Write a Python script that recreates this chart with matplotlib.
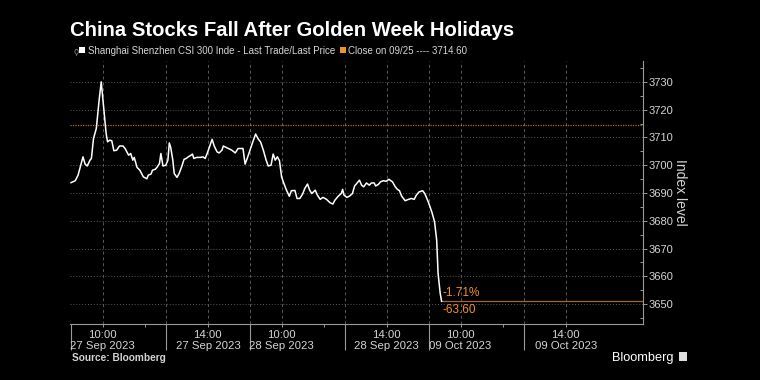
import matplotlib
matplotlib.use("Agg")
import matplotlib.pyplot as plt
from matplotlib.patches import Rectangle
import numpy as np

plt.rcParams['font.family'] = ['Liberation Sans', 'DejaVu Sans']

# ---- data (x = trading minutes since 09:15 on 27 Sep 2023, lunch/overnight/holiday gaps removed;
#      each session day = 09:15-11:30 (135 min) + 13:00-15:00 (120 min) = 255 min)
trade_min = [0, 6, 10, 17, 20, 23, 27, 29, 32, 36, 40, 43, 46, 50, 52, 55, 58, 61, 65, 69,
             74, 77, 82, 85, 88, 90, 94, 98, 103, 108, 110, 114, 116, 120, 123, 126, 128, 131,
             135, 138, 140, 142, 145, 147, 151, 154, 158, 161, 164, 167, 171, 173, 175, 179,
             184, 188, 191, 194, 197, 201, 204, 208, 211, 215, 217, 221, 224, 229, 234, 238,
             243, 245, 248, 251,
             255, 259, 263, 267, 270, 274, 278, 281, 285, 288, 291, 294, 297, 300, 303, 307,
             311, 314, 319, 322, 326, 330, 333, 337, 340, 343, 348, 351, 355, 359, 364, 369,
             373, 376, 381, 385, 387, 389, 393, 397, 401, 404, 407, 411, 414, 417, 421, 425,
             428, 432, 434, 438, 441, 445, 449, 453, 458, 462, 465, 468, 471, 476, 481, 485,
             489, 492, 496, 501, 504, 509,
             514, 518, 521, 523, 526, 528]
csi300 = [3693.7, 3694.4, 3696.4, 3703.0, 3700.4, 3699.7, 3701.8, 3702.4, 3709.6, 3713.2,
          3723.4, 3730.0, 3722.2, 3711.4, 3708.4, 3709.0, 3708.8, 3705.2, 3705.4, 3706.9,
          3706.9, 3706.0, 3703.6, 3704.2, 3701.8, 3702.8, 3699.2, 3698.2, 3695.8, 3695.1,
          3696.4, 3696.8, 3698.2, 3698.5, 3699.4, 3700.6, 3704.2, 3699.7,
          3700.0, 3701.8, 3708.0, 3706.4, 3701.8, 3697.0, 3695.6, 3697.0, 3699.7, 3702.1,
          3702.4, 3703.0, 3703.6, 3704.0, 3702.4, 3702.8, 3702.8, 3703.0, 3702.4, 3704.2,
          3706.4, 3709.3, 3706.9, 3704.8, 3704.4, 3705.4, 3706.9, 3706.4, 3706.0, 3705.4,
          3704.4, 3706.0, 3706.0, 3706.0, 3700.4, 3702.4,
          3705.4, 3708.4, 3711.2, 3709.3, 3708.4, 3705.4, 3701.8, 3699.7, 3700.0, 3704.0,
          3701.8, 3703.0, 3701.6, 3695.8, 3693.6, 3691.0, 3688.8, 3690.8, 3690.9, 3688.0,
          3688.0, 3689.6, 3691.6, 3693.2, 3691.0, 3689.8, 3691.0, 3689.2, 3687.7, 3688.4,
          3687.7, 3686.5, 3686.0, 3687.4, 3688.9, 3689.8, 3691.3, 3689.2, 3688.4, 3688.9,
          3689.8, 3692.5, 3693.4, 3694.6, 3692.8, 3692.2, 3693.6, 3692.8, 3693.6, 3693.6,
          3692.5, 3693.1, 3694.0, 3694.4, 3694.2, 3694.9, 3694.0, 3692.2, 3691.3, 3690.8,
          3688.9, 3687.2, 3687.7, 3688.0, 3687.7, 3689.2, 3690.4, 3690.8, 3689.8, 3686.8,
          3683.2, 3679.6, 3673.0, 3661.0, 3653.9, 3651.0]
prev_close = 3714.60

# x-axis tick positions / labels
session_bounds = [0, 135, 255, 390, 510, 645, 765]
label_pos = [45, 195, 300, 450, 555, 705]
label_txt = ["10:00\n27 Sep 2023", "14:00\n27 Sep 2023", "10:00\n28 Sep 2023",
             "14:00\n28 Sep 2023", "10:00\n09 Oct 2023", "14:00\n09 Oct 2023"]
hour_ticks = [45, 105, 195, 300, 360, 450, 555, 615, 705]
yticks = [3650, 3660, 3670, 3680, 3690, 3700, 3710, 3720, 3730]

TXT = "#d4d4d4"
GRID = "#5a5a5a"
ORANGE = "#f0922b"

fig = plt.figure(figsize=(7.6, 3.8), dpi=100, facecolor="black")
ax = fig.add_axes([70 / 760, 1 - 323.5 / 380, (643 - 70) / 760, (323.5 - 61) / 380])
ax.set_facecolor("black")

ax.set_xlim(-1.5, 815)
ax.set_ylim(3643.0, 3737.5)

# grid
for y in yticks:
    ax.axhline(y, color=GRID, lw=0.7, ls=(0, (1, 2)), zorder=1)
for x in sorted(set(label_pos + session_bounds[1:6])):
    ax.axvline(x, color=GRID, lw=0.7, ls=(0, (3, 3)), zorder=1)

# previous close line
ax.axhline(prev_close, color=ORANGE, lw=0.9, ls=(0, (1, 1)), alpha=0.75, zorder=2)

# price line
ax.plot(trade_min, csi300, color="white", lw=1.1, zorder=3)

# last price line + change labels
last = csi300[-1]
chg = last - prev_close
pct = chg / prev_close * 100
ax.plot([trade_min[-1], ax.get_xlim()[1]], [last, last], color="#a8662a", lw=0.9, zorder=2)
ax.text(trade_min[-1] + 1, last + 0.8, f"{pct:.2f}%", color=ORANGE, fontsize=8.5,
        ha="left", va="bottom", zorder=4)
ax.text(trade_min[-1] + 1, last - 0.8, f"{chg:.2f}", color=ORANGE, fontsize=8.5,
        ha="left", va="top", zorder=4)

# spines
for s in ["left", "top"]:
    ax.spines[s].set_visible(False)
for s in ["right", "bottom"]:
    ax.spines[s].set_color("#9a9a9a")
    ax.spines[s].set_linewidth(0.8)

# y axis on the right
ax.yaxis.tick_right()
ax.set_yticks(yticks)
ax.set_yticklabels([str(v) for v in yticks])
ax.set_yticks(np.arange(3645, 3736, 10), minor=True)
ax.tick_params(axis="y", which="major", direction="out", length=3, width=0.7,
               color="#9a9a9a", labelcolor=TXT, labelsize=8, pad=1)
ax.tick_params(axis="y", which="minor", direction="in", length=2.5, width=0.7,
               color="#9a9a9a")
ax.yaxis.set_label_position("right")
ax.set_ylabel("Index level", color=TXT, fontsize=10, rotation=270, labelpad=10)

# x axis: long separators as major ticks, hour marks + labels as minor ticks
ax.set_xticks(session_bounds[:6])
ax.set_xticklabels([""] * 6)
ax.tick_params(axis="x", which="major", direction="out", length=19, width=0.8,
               color="#9a9a9a")
ax.set_xticks(hour_ticks, minor=True)
lab_map = dict(zip(label_pos, label_txt))
ax.set_xticklabels([lab_map.get(h, "") for h in hour_ticks], minor=True)
ax.tick_params(axis="x", which="minor", direction="out", length=2.5, width=0.7,
               color="#9a9a9a", labelcolor=TXT, labelsize=8.2, pad=2)
for t in ax.get_xticklabels(minor=True):
    t.set_linespacing(1.1)

# title
fig.text(70 / 760, 1 - 36 / 380, "China Stocks Fall After Golden Week Holidays",
         color="white", fontsize=14.6, fontweight="bold", ha="left", va="baseline")

# legend
fig.text(73 / 760, 1 - 54 / 380, "\u03d9", color="#8a8a8a", fontsize=6,
         ha="left", va="baseline", family=["DejaVu Sans"])
fig.add_artist(Rectangle((79 / 760, 1 - 53 / 380), 5.5 / 760, 6 / 380,
                         transform=fig.transFigure, color="white", lw=0))
fig.text(87.5 / 760, 1 - 53.5 / 380, "Shanghai Shenzhen CSI 300 Inde - Last Trade/Last Price",
         color=TXT, fontsize=7.0, ha="left", va="baseline")
fig.add_artist(Rectangle((340 / 760, 1 - 53 / 380), 5.5 / 760, 6 / 380,
                         transform=fig.transFigure, color=ORANGE, lw=0))
fig.text(348 / 760, 1 - 53.5 / 380, f"Close on 09/25 ---- {prev_close:.2f}",
         color=TXT, fontsize=7.0, ha="left", va="baseline")

# source + logo
fig.text(72 / 760, 1 - 361 / 380, "Source: Bloomberg", color=TXT, fontsize=7.3,
         fontweight="bold", ha="left", va="baseline")
fig.text(612 / 760, 1 - 361 / 380, "Bloomberg", color="white", fontsize=9.2,
         ha="left", va="baseline")
fig.add_artist(Rectangle((679 / 760, 1 - 361 / 380), 8 / 760, 9 / 380,
                         transform=fig.transFigure, color="#e0e0e0", lw=0))

fig.savefig("out.png", dpi=100, facecolor="black")
